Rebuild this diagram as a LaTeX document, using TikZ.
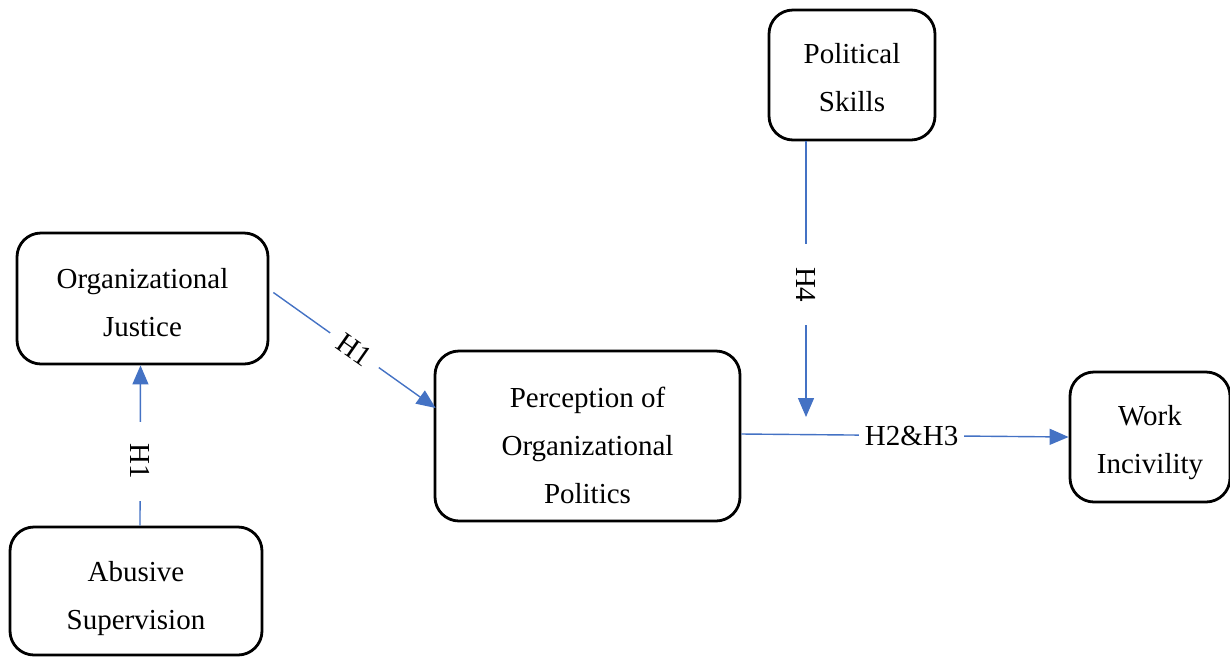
\documentclass[tikz,border=0pt]{standalone}
\usepackage{fontspec}
\setmainfont{Liberation Serif}
\usetikzlibrary{arrows.meta,calc}
\begin{document}
\begin{tikzpicture}[x=1pt,y=-1pt,
  box/.style={draw=black,line width=2.8pt,rounded corners=24pt,inner sep=0pt},
  txt/.style={align=center,font=\fontsize{29}{48}\selectfont,inner sep=0pt},
  arr/.style={draw={rgb,255:red,68;green,114;blue,196},line width=1.4pt,
    -{Triangle[length=19pt,width=16pt]}},
  lbl/.style={fill=white,font=\fontsize{29}{30}\selectfont,inner ysep=2pt}]
\useasboundingbox (0,0) rectangle (1230,657);
\node[box,minimum width=166pt,minimum height=130pt] (ps) at (852,75) {};
\node[box,minimum width=251pt,minimum height=131pt] (oj) at (142.5,298.5) {};
\node[box,minimum width=252pt,minimum height=128pt] (as) at (136,591) {};
\node[box,minimum width=305pt,minimum height=170pt] (pop) at (587.5,436) {};
\node[box,minimum width=160pt,minimum height=130pt] (wi) at (1150,437) {};
\node[txt] (pst) at ($(ps.center)+(0,3)$) {Political\\Skills};
\node[txt] (ojt) at ($(oj.center)+(0,4)$) {Organizational\\Justice};
\node[txt] (ast) at ($(as.center)+(0,8)$) {Abusive\\Supervision};
\node[txt] (popt) at ($(pop.center)+(0,9)$) {Perception of\\Organizational\\Politics};
\node[txt] (wit) at ($(wi.center)+(0,6)$) {Work\\Incivility};
\coordinate (h4end) at (806,417);
\draw[arr] ([xshift=4pt]as.north) -- node[lbl,rotate=-90,inner xsep=22pt,pos=0.40]{H1} ([xshift=-2pt]oj.south);
\draw[arr] ($(oj.east)+(4,-6)$) -- node[lbl,rotate=-35,inner xsep=12pt]{H1} ($(pop.west)+(2,-28)$);
\draw[arr] ($(ps.south)+(-46,0)$) -- node[lbl,rotate=-90,inner xsep=23pt,pos=0.52]{H4} (h4end);
\draw[arr] ($(pop.east)+(0,-2)$) -- node[lbl,inner xsep=6pt,pos=0.52]{H2\&H3} (wi.west);
\end{tikzpicture}
\end{document}
